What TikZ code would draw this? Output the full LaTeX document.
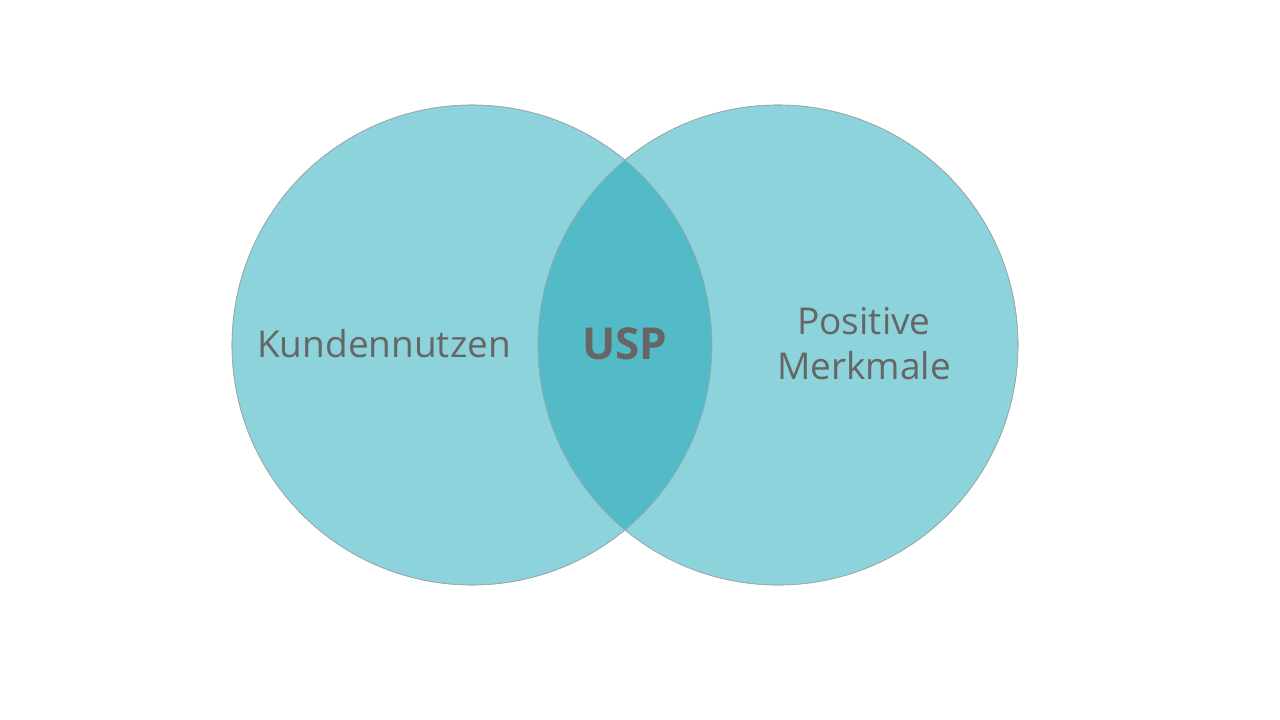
\documentclass[tikz,border=0pt]{standalone}
\usepackage{fontspec}
\setmainfont{Open Sans}
\usetikzlibrary{positioning}
\definecolor{setfill}{HTML}{8DD3DB}
\definecolor{cutfill}{HTML}{53BBC8}
\definecolor{setline}{HTML}{9AA8AA}
\definecolor{labeltext}{HTML}{666666}
\begin{document}
\begin{tikzpicture}[x=1pt, y=-1pt,
    set/.style={circle, draw=setline, line width=0.6pt, fill=setfill, inner sep=0pt, minimum size=480pt},
    setlabel/.style={text=labeltext, font=\fontsize{37}{45}\selectfont, align=center}]
    \useasboundingbox (0,0) rectangle (1280,720);
    \node[set] (kunde) at (472,345) {};
    \node[set] (merkmal) at (778,345) {};

    \begin{scope}
      \clip (472,345) circle (240pt);
      \fill[cutfill] (778,345) circle (240pt);
    \end{scope}
    \draw[setline, line width=0.6pt] (472,345) circle (240pt);
    \draw[setline, line width=0.6pt] (778,345) circle (240pt);

    \node[setlabel] (kundetext) at (384,344) {Kundennutzen};
    \node[setlabel, font=\bfseries\fontsize{44}{52}\selectfont] (usp) at (625,344) {USP};
    \node[setlabel] (merkmaltext) at (864,344) {Positive\\Merkmale};
  \end{tikzpicture}
\end{document}
